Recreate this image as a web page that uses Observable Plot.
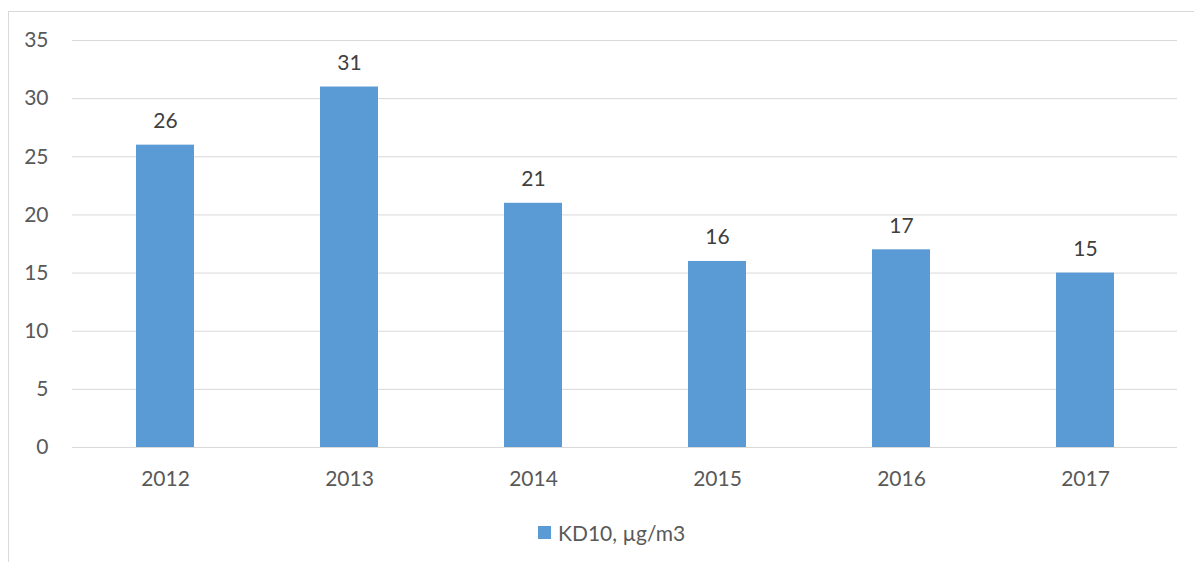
<!DOCTYPE html>
<html>
<head>
<meta charset="utf-8">
<script src="https://cdn.jsdelivr.net/npm/d3@7"></script>
<script src="https://cdn.jsdelivr.net/npm/@observablehq/plot@0.6"></script>
<style>
  html, body { margin: 0; padding: 0; background: #fff; }
  #wrap { position: relative; width: 1194px; height: 562px; overflow: hidden; font-family: Lato, "Open Sans", sans-serif; }
  #frame { position: absolute; left: 8px; top: 11px; width: 1300px; height: 700px; border: 1px solid #d9d9d9; box-sizing: border-box; }
  #chart { position: absolute; left: 0; top: 0; }
  #legend { position: absolute; left: 538px; top: 520px; display: flex; align-items: center; font-size: 21px; color: #595959; }
  #legend .sw { width: 13px; height: 13px; background: #5b9bd5; margin-right: 7px; }
</style>
</head>
<body>
<div id="wrap">
  <div id="frame"></div>
  <div id="chart"></div>
  <div id="legend"><span class="sw"></span><span id="legendLabel"></span></div>
</div>
<script>
const years = ["2012", "2013", "2014", "2015", "2016", "2017"];
const values = [26, 31, 21, 16, 17, 15];
const yTicks = [0, 5, 10, 15, 20, 25, 30, 35];
const seriesName = "KD10, µg/m3";

const data = years.map((y, i) => ({year: y, value: values[i]}));

const chart = Plot.plot({
  width: 1194,
  height: 562,
  marginLeft: 72,
  marginRight: 17,
  marginTop: 40,
  marginBottom: 115,
  style: {fontFamily: "Lato, 'Open Sans', sans-serif", fontSize: "21px", background: "transparent", color: "#595959"},
  x: {domain: years, paddingInner: 0.685, paddingOuter: 0.3425, label: null},
  y: {domain: [0, 35], label: null},
  marks: [
    Plot.gridY(yTicks, {stroke: "#d9d9d9", strokeOpacity: 1, strokeWidth: 1}),
    Plot.barY(data, {x: "year", y: "value", fill: "#5b9bd5"}),
    Plot.axisY(yTicks, {tickSize: 0, tickPadding: 24, label: null, fill: "#595959"}),
    Plot.axisX({tickSize: 0, tickPadding: 24, label: null, fill: "#595959"}),
    Plot.text(data, {x: "year", y: "value", text: d => String(d.value), dy: -24, fill: "#404040", fontSize: 21})
  ]
});
document.getElementById("chart").appendChild(chart);
document.getElementById("legendLabel").textContent = seriesName;
</script>
</body>
</html>
